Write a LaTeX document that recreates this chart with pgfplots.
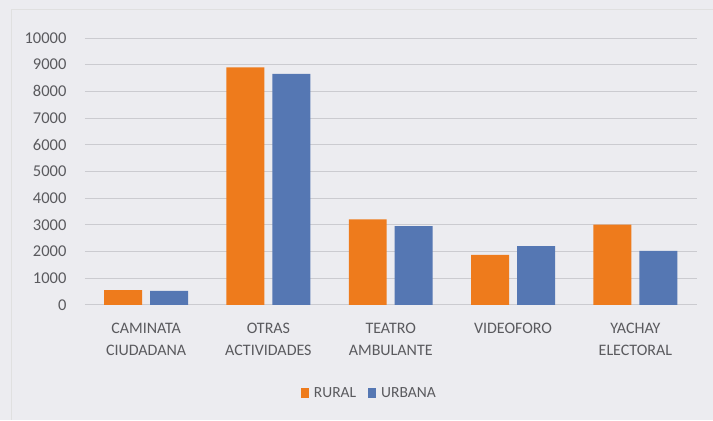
\documentclass[border=0pt]{standalone}
\usepackage{pgfplots}
\pgfplotsset{compat=1.18}
\usepackage{fontspec}
\setmainfont{Carlito}
\definecolor{bg}{HTML}{ECECF0}
\definecolor{rural}{HTML}{EE7B1C}
\definecolor{urbana}{HTML}{5577B3}
\definecolor{txt}{HTML}{5A5A5E}
\definecolor{grid}{HTML}{CBCBD0}
\begin{document}
\begin{tikzpicture}[x=1pt,y=1pt]
\path[fill=bg] (0,0) rectangle (713,420);
\draw[color=black!12,line width=1pt] (12,0) -- (12,410) -- (713,410);
\begin{axis}[
  at={(85pt,115pt)}, anchor=south west,
  scale only axis, width=612pt, height=267pt,
  ymin=0, ymax=10000, ytick distance=1000,
  xmin=-0.5, xmax=4.5,
  xtick={0,1,2,3,4},
  xticklabels={CAMINATA\\CIUDADANA, OTRAS\\ACTIVIDADES, TEATRO\\AMBULANTE, VIDEOFORO, YACHAY\\ELECTORAL},
  xticklabel style={align=center, anchor=north, text=txt, font=\fontsize{16}{22}\selectfont, yshift=-15pt},
  yticklabel style={text=txt, font=\fontsize{16.5}{18}\selectfont, xshift=-15pt},
  /pgf/number format/assume math mode=true,
  /pgf/number format/1000 sep={},
  scaled y ticks=false,
  axis line style={draw=none},
  major tick length=0pt,
  ymajorgrids, grid style={color=grid, line width=0.8pt},
  ybar, bar width=38pt,
  legend style={at={(0.465,-0.295)}, anchor=north, draw=none, fill=none, legend columns=2,
    font=\fontsize{15.5}{18}\selectfont, text=txt,
    /tikz/every even column/.append style={column sep=10pt},
    /tikz/every odd column/.append style={column sep=3pt}},
  legend image code/.code={\fill[#1] (0pt,-5pt) rectangle (8pt,5pt);},
]
\addplot[fill=rural, draw=none, bar shift=-23pt] coordinates {(0,550) (1,8900) (2,3200) (3,1870) (4,3000)};
\addplot[fill=urbana, draw=none, bar shift=23pt] coordinates {(0,520) (1,8650) (2,2950) (3,2200) (4,2020)};
\legend{RURAL, URBANA}
\end{axis}
\end{tikzpicture}
\end{document}
